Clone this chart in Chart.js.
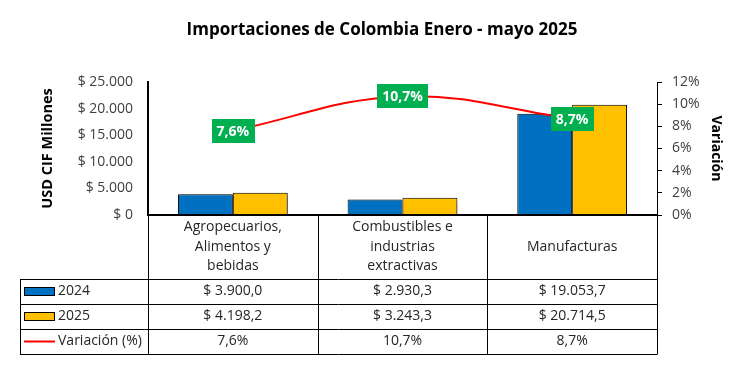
<!DOCTYPE html>
<html><head><meta charset="utf-8">
<script src="https://cdn.jsdelivr.net/npm/chart.js@4"></script>
<style>html,body{margin:0;padding:0;background:#fff}canvas{display:block}</style>
</head><body>
<canvas id="c" width="731" height="370"></canvas>
<script>
const title = 'Importaciones de Colombia Enero - mayo 2025';
const categories = [['Agropecuarios,','Alimentos y','bebidas'],['Combustibles e','industrias','extractivas'],['Manufacturas']];
const series2024 = [3900.0, 2930.3, 19053.7];
const series2025 = [4198.2, 3243.3, 20714.5];
const variacion = [7.6, 10.7, 8.7];
const seriesNames = ['2024', '2025', 'Variación (%)'];
const leftAxisTitle = 'USD CIF Millones';
const rightAxisTitle = 'Variación';

const FONT = "'Open Sans', sans-serif";
const BLUE = '#0070C0', YELLOW = '#FFC000', RED = '#FF0000', GREEN = '#00B050';
const TEXT = '#262626';

function thousands(s){ return s.replace(/\B(?=(\d{3})+(?!\d))/g,'.'); }
function fmtMoney(v){ const p = v.toFixed(1).split('.'); return '$ ' + thousands(p[0]) + ',' + p[1]; }
function fmtPct(v){ return v.toFixed(1).replace('.', ',') + '%'; }

const shadowPlugin = {
  id: 'shadow',
  beforeDatasetDraw(chart, args){
    if (chart.data.datasets[args.index].type === 'bar'){
      const c = chart.ctx; c.save();
      c.shadowColor = 'rgba(0,0,0,0.35)'; c.shadowBlur = 4; c.shadowOffsetX = 3; c.shadowOffsetY = 2;
    }
  },
  afterDatasetDraw(chart, args){
    if (chart.data.datasets[args.index].type === 'bar') chart.ctx.restore();
  }
};

const labelPlugin = {
  id: 'lineLabels',
  afterDatasetsDraw(chart){
    const ctx = chart.ctx;
    const meta = chart.getDatasetMeta(2);
    ctx.save();
    ctx.font = 'bold 14px ' + FONT;
    ctx.textAlign = 'center'; ctx.textBaseline = 'middle';
    meta.data.forEach((pt, i) => {
      const t = fmtPct(variacion[i]);
      const w = ctx.measureText(t).width + 10, h = 24;
      ctx.fillStyle = GREEN;
      ctx.fillRect(Math.round(pt.x - w/2), Math.round(pt.y - h/2), Math.round(w), h);
      ctx.fillStyle = '#fff';
      ctx.fillText(t, pt.x, pt.y + 1);
    });
    ctx.restore();
  }
};

const tablePlugin = {
  id: 'table',
  afterDraw(chart){
    const {ctx, chartArea: a, scales: {x}} = chart;
    const n = categories.length;
    const half = a.width / n / 2;
    const L = 20;
    const rows = [a.bottom, a.bottom + 64, a.bottom + 89, a.bottom + 114, a.bottom + 139];
    ctx.save();
    // title
    ctx.fillStyle = '#000';
    ctx.font = 'bold 17px ' + FONT;
    ctx.textAlign = 'center'; ctx.textBaseline = 'middle';
    ctx.fillText(title, 382, 30);

    ctx.strokeStyle = '#000';
    ctx.lineWidth = 1;
    ctx.beginPath();
    for (let r = 1; r < rows.length; r++){
      const y = Math.round(rows[r]) + 0.5;
      ctx.moveTo(L, y); ctx.lineTo(a.right, y);
    }
    const bounds = [a.left];
    for (let i = 0; i < n; i++) bounds.push(x.getPixelForValue(i) + half);
    bounds.forEach(bx => { const xx = Math.round(bx) + 0.5; ctx.moveTo(xx, a.bottom); ctx.lineTo(xx, rows[4] + 0.5); });
    ctx.moveTo(L + 0.5, rows[1]); ctx.lineTo(L + 0.5, rows[4] + 0.5);
    ctx.stroke();
    // bottom axis line
    ctx.lineWidth = 2;
    ctx.beginPath(); ctx.moveTo(a.left - 1, a.bottom); ctx.lineTo(a.right + 1, a.bottom); ctx.stroke();

    ctx.fillStyle = TEXT;
    ctx.font = '14px ' + FONT;
    ctx.textAlign = 'center'; ctx.textBaseline = 'middle';
    const catMid = (rows[0] + rows[1]) / 2;
    categories.forEach((lines, i) => {
      const cx = x.getPixelForValue(i);
      const lh = 19.5;
      lines.forEach((ln, j) => ctx.fillText(ln, cx, catMid + (j - (lines.length - 1) / 2) * lh));
    });
    const rowVals = [series2024.map(fmtMoney), series2025.map(fmtMoney), variacion.map(fmtPct)];
    rowVals.forEach((vals, r) => {
      const cy = (rows[r + 1] + rows[r + 2]) / 2;
      vals.forEach((v, i) => ctx.fillText(v, x.getPixelForValue(i), cy));
    });
    // legend keys
    const colors = [BLUE, YELLOW];
    ctx.textAlign = 'left';
    seriesNames.forEach((nm, r) => {
      const cy = (rows[r + 1] + rows[r + 2]) / 2;
      if (r < 2){
        ctx.fillStyle = colors[r];
        ctx.fillRect(24, Math.round(cy - 4.5), 31, 9);
        ctx.lineWidth = 1; ctx.strokeStyle = '#000';
        ctx.strokeRect(24.5, Math.round(cy - 4.5) + 0.5, 30, 8);
      } else {
        ctx.strokeStyle = RED; ctx.lineWidth = 2;
        ctx.beginPath(); ctx.moveTo(24, cy); ctx.lineTo(55, cy); ctx.stroke();
      }
      ctx.fillStyle = TEXT;
      ctx.fillText(nm, 58, cy);
    });
    ctx.restore();
  }
};

new Chart(document.getElementById('c'), {
  type: 'bar',
  data: {
    labels: categories.map(c => c.join(' ')),
    datasets: [
      { type: 'bar', label: seriesNames[0], data: series2024, backgroundColor: BLUE, borderColor: '#000', borderWidth: 1, yAxisID: 'y', order: 1, categoryPercentage: 0.647, barPercentage: 1.0 },
      { type: 'bar', label: seriesNames[1], data: series2025, backgroundColor: YELLOW, borderColor: '#000', borderWidth: 1, yAxisID: 'y', order: 1, categoryPercentage: 0.647, barPercentage: 1.0 },
      { type: 'line', label: seriesNames[2], data: variacion, borderColor: RED, borderWidth: 2, pointRadius: 0, tension: 0.4, fill: false, yAxisID: 'y1', order: 0 }
    ]
  },
  options: {
    responsive: false,
    animation: false,
    layout: { padding: { top: 82, bottom: 155, left: 0, right: 0 } },
    plugins: { legend: { display: false }, tooltip: { enabled: false }, title: { display: false } },
    scales: {
      x: { display: false },
      y: {
        position: 'left', min: 0, max: 25000,
        ticks: { stepSize: 5000, padding: 15, color: '#404040', font: { family: FONT, size: 14 },
          callback: v => '$ ' + thousands(String(v)) },
        grid: { display: false, drawTicks: false },
        border: { display: true, color: '#000', width: 2 },
        title: { display: true, text: leftAxisTitle, color: '#000', font: { family: FONT, size: 14.5, weight: 'bold' }, padding: { top: 39, bottom: 0 } },
        afterFit: s => { s.width = 148; }
      },
      y1: {
        position: 'right', min: 0, max: 12,
        ticks: { stepSize: 2, padding: 10, color: '#404040', font: { family: FONT, size: 14 }, callback: v => v + '%' },
        grid: { display: true, drawOnChartArea: false, drawTicks: true, tickLength: 5, color: '#000' },
        border: { display: true, color: '#000', width: 1 },
        title: { display: true, text: rightAxisTitle, color: '#000', font: { family: FONT, size: 14, weight: 'bold' }, padding: { top: 7, bottom: 0 } },
        afterFit: s => { s.width = 74; }
      }
    }
  },
  plugins: [shadowPlugin, labelPlugin, tablePlugin]
});
</script>
</body></html>
